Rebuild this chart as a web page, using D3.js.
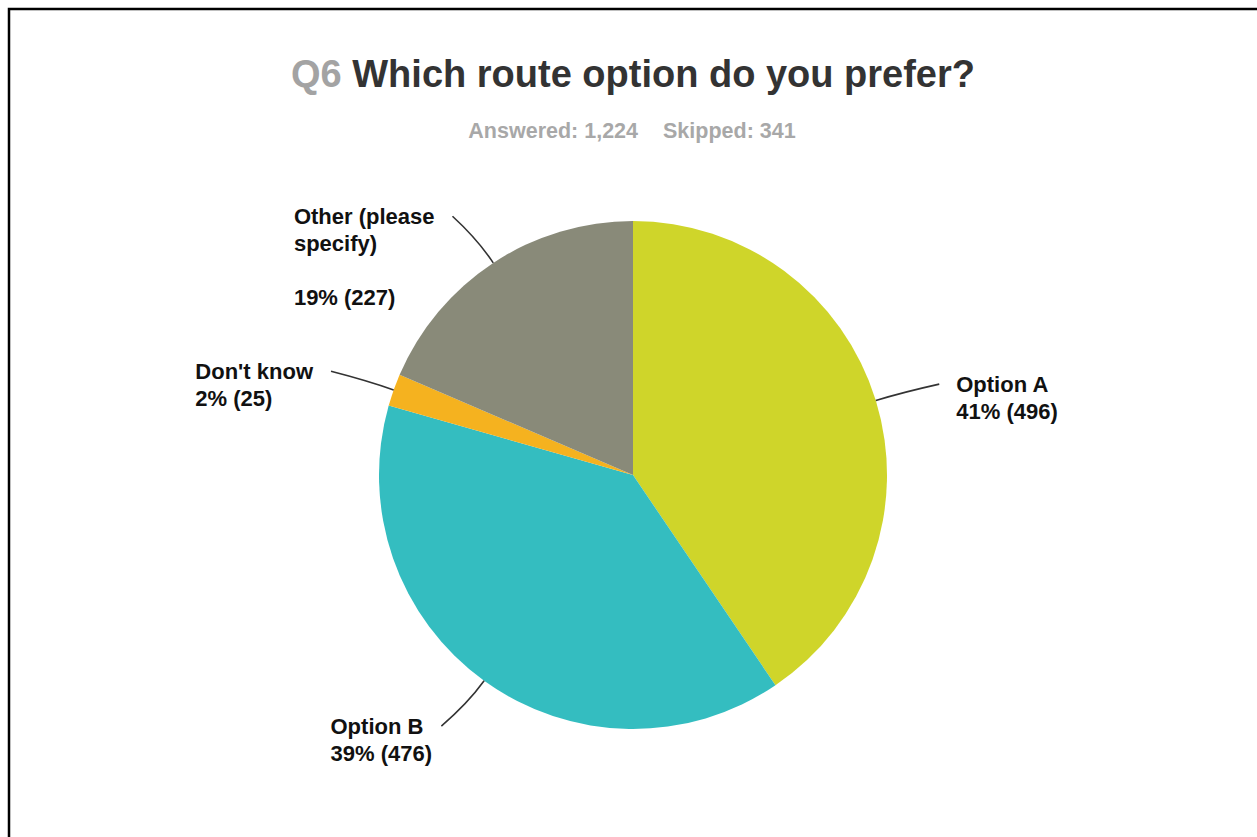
<!DOCTYPE html>
<html>
<head>
<meta charset="utf-8">
<script src="https://cdn.jsdelivr.net/npm/d3@7"></script>
<style>
  html, body { margin: 0; padding: 0; background: #fff; }
  svg { display: block; }
  text { font-family: "Liberation Sans", Arial, sans-serif; font-weight: bold; }
</style>
</head>
<body>
<svg id="chart" width="1257" height="837"></svg>
<script>
// ---- data ----
const questionNo = "Q6";
const questionText = "Which route option do you prefer?";
const answered = "1,224";
const skipped = "341";
const categories = ["Option A", "Option B", "Don't know", "Other (please specify)"];
const labelLines = [["Option A"], ["Option B"], ["Don't know"], ["Other (please", "specify)", ""]];
const counts = [496, 476, 25, 227];
const percents = ["41%", "39%", "2%", "19%"];

// ---- styles ----
const sliceColors = ["#cfd52a", "#34bdc0", "#f5b21f", "#898a79"];

const W = 1257, H = 837;
const svg = d3.select("#chart");

// frame
svg.append("path")
  .attr("d", `M9,${H} L9,9 L${W},9`)
  .attr("fill", "none").attr("stroke", "#000").attr("stroke-width", 2.5);

// title
const title = svg.append("text")
  .attr("x", 633).attr("y", 87)
  .attr("text-anchor", "middle")
  .attr("font-size", 38);
title.append("tspan").attr("fill", "#a3a3a3").text(questionNo + " ");
title.append("tspan").attr("fill", "#333333").text(questionText);

const sub = svg.append("text")
  .attr("x", 632).attr("y", 138)
  .attr("text-anchor", "middle")
  .attr("font-size", 21.5)
  .attr("fill", "#a8a8a8");
sub.append("tspan").text("Answered: " + answered);
sub.append("tspan").attr("dx", 25).text("Skipped: " + skipped);

// pie
const cx = 633, cy = 475, r = 254;
const data = categories.map((c, i) => ({ cat: c, count: counts[i], pct: percents[i], lines: labelLines[i], color: sliceColors[i] }));
const pie = d3.pie().sort(null).value(d => d.count);
const arcs = pie(data);
const arc = d3.arc().innerRadius(0).outerRadius(r);

const g = svg.append("g").attr("transform", `translate(${cx},${cy})`);
g.selectAll("path.slice")
  .data(arcs)
  .join("path")
  .attr("class", "slice")
  .attr("d", arc)
  .attr("fill", d => d.data.color);

// leader lines + labels
const fontSize = 22, lineH = 27;
arcs.forEach(a => {
  const mid = (a.startAngle + a.endAngle) / 2;
  const sx = Math.sin(mid), sy = -Math.cos(mid);
  const right = sx > 0;
  const p0 = [sx * r, sy * r];
  const pc = [sx * r * 1.11, sy * r * 1.11];
  const pOuter = [sx * r * 1.22, sy * r * 1.22];
  const p1 = [pOuter[0] + (right ? 10 : -10), pOuter[1]];
  const path = d3.path();
  path.moveTo(p0[0], p0[1]);
  path.quadraticCurveTo(pc[0], pc[1], p1[0], p1[1]);
  g.append("path")
    .attr("d", path.toString())
    .attr("fill", "none")
    .attr("stroke", "#333")
    .attr("stroke-width", 1.6);

  const lines = a.data.lines.concat([`${a.data.pct} (${a.data.count})`]);
  const t = g.append("text")
    .attr("font-size", fontSize)
    .attr("fill", "#111");
  lines.forEach((ln, i) => {
    t.append("tspan").attr("dy", i === 0 ? 0 : lineH).text(ln || "\u00a0");
  });
  const firstW = t.select("tspan").node().getComputedTextLength();
  const tx = right ? p1[0] + 17 : p1[0] - 18 - firstW;
  t.attr("y", p1[1] + 8);
  t.selectAll("tspan").attr("x", tx);
});
</script>
</body>
</html>
